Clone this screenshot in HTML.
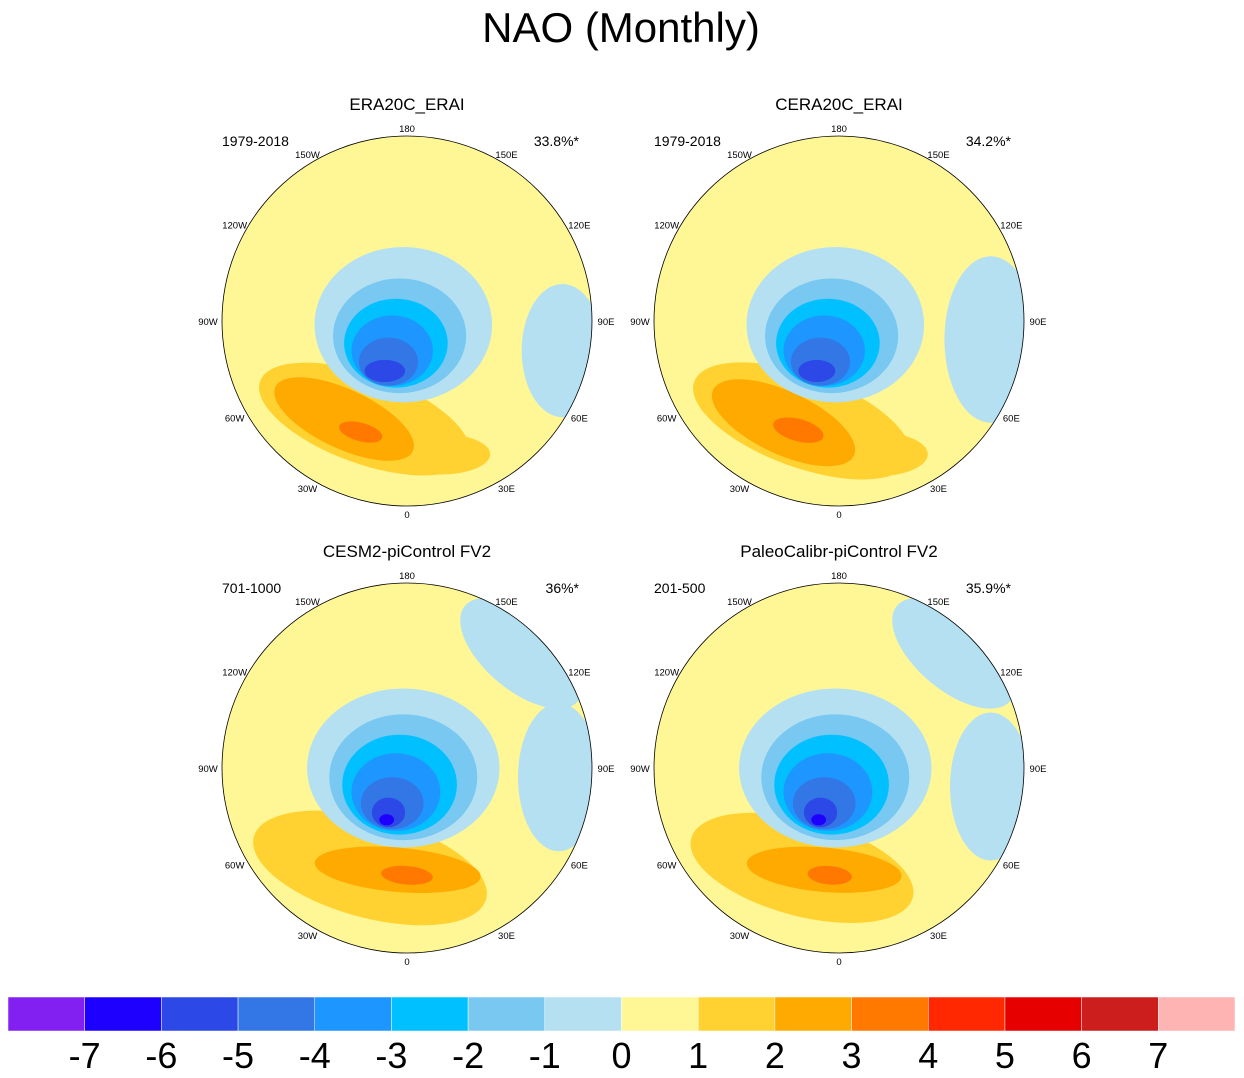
<!DOCTYPE html>
<html><head><meta charset="utf-8"><style>
body{margin:0;background:#fff;}
svg{display:block;font-family:"Liberation Sans",sans-serif;}
</style></head><body>
<svg id="c" width="1244" height="1078" viewBox="0 0 1244 1078">
<text x="621" y="42" font-size="42" text-anchor="middle">NAO (Monthly)</text>
</svg>
<script>
const levels=[-7,-6,-5,-4,-3,-2,-1,0,1,2,3,4,5,6,7];
const colors=["#8120F0","#1E00FF","#2C48E6","#3377E6","#1E96FF","#00C0FF","#78C8F2","#B4E0F2","#FFF796","#FFD232","#FFAA00","#FF7800","#FF2800","#E60000","#CD1E1E","#FFB4B4"];
const panelTitles=["ERA20C_ERAI","CERA20C_ERAI","CESM2-piControl FV2","PaleoCalibr-piControl FV2"];
const panelYears=["1979-2018","1979-2018","701-1000","201-500"];
const panelPct=["33.8%*","34.2%*","36%*","35.9%*"];
const lonLabels=["180","150E","120E","90E","60E","30E","0","30W","60W","90W","120W","150W"];
// blobs: [colorIndex, cx, cy, rx, ry, rotDeg] in units of map radius
const blobsTL=[[9,-0.23,0.53,0.6,0.24,20],[9,0.18,0.72,0.27,0.11,0],[10,-0.34,0.53,0.41,0.16,25],[11,-0.25,0.6,0.12,0.05,15],
 [7,-0.02,0.02,0.48,0.42,0],[7,0.84,0.16,0.22,0.36,0],[6,-0.04,0.08,0.36,0.31,0],[5,-0.06,0.12,0.28,0.24,0],[4,-0.08,0.16,0.22,0.19,0],[3,-0.1,0.22,0.16,0.13,0],[2,-0.12,0.27,0.11,0.06,0]];
const blobsTR=[[9,-0.2,0.54,0.62,0.25,20],[9,0.2,0.72,0.28,0.12,0],[10,-0.3,0.55,0.42,0.17,25],[11,-0.22,0.59,0.14,0.06,15],
 [7,-0.02,0.02,0.48,0.42,0],[7,0.82,0.1,0.25,0.45,0],[6,-0.04,0.08,0.36,0.31,0],[5,-0.06,0.12,0.28,0.24,0],[4,-0.08,0.16,0.22,0.19,0],[3,-0.1,0.22,0.16,0.13,0],[2,-0.12,0.27,0.1,0.06,0]];
const blobsBL=[[8,-0.17,-0.56,0.3,0.17,0],[7,0.62,-0.62,0.4,0.2,40],[7,0.82,0.05,0.22,0.4,0],
 [9,-0.2,0.54,0.65,0.27,15],[10,-0.05,0.55,0.45,0.12,5],[11,0.0,0.58,0.14,0.05,5],
 [7,-0.02,0.0,0.52,0.43,0],[6,-0.02,0.05,0.4,0.34,0],[5,-0.04,0.09,0.31,0.27,0],[4,-0.06,0.13,0.24,0.21,0],[3,-0.08,0.19,0.17,0.14,0],[2,-0.1,0.24,0.09,0.08,0],[1,-0.11,0.28,0.04,0.03,0]];
const blobsBR=[[8,-0.17,-0.56,0.22,0.14,0],[7,0.62,-0.62,0.4,0.2,40],[7,0.82,0.1,0.22,0.4,0],
 [9,-0.2,0.54,0.62,0.26,15],[10,-0.08,0.55,0.42,0.12,5],[11,-0.05,0.58,0.12,0.05,5],
 [7,-0.02,0.0,0.52,0.43,0],[6,-0.02,0.05,0.4,0.34,0],[5,-0.04,0.09,0.31,0.27,0],[4,-0.06,0.13,0.24,0.21,0],[3,-0.08,0.19,0.17,0.14,0],[2,-0.1,0.24,0.09,0.08,0],[1,-0.11,0.28,0.04,0.03,0]];
const panelBlobs=[blobsTL,blobsTR,blobsBL,blobsBR];

const svg=document.getElementById('c');
const NS='http://www.w3.org/2000/svg';
function mk(t,a){const e=document.createElementNS(NS,t);for(const k in a)e.setAttribute(k,a[k]);return e;}
const centers=[[407,321],[839,321],[407,768],[839,768]];
const R=185;
const defs=mk('defs',{});svg.appendChild(defs);
centers.forEach((c,p)=>{
  const cp=mk('clipPath',{id:'clip'+p});cp.appendChild(mk('circle',{cx:c[0],cy:c[1],r:R}));defs.appendChild(cp);
  const g=mk('g',{'clip-path':'url(#clip'+p+')'});
  
  
  g.appendChild(mk('rect',{x:c[0]-R,y:c[1]-R,width:2*R,height:2*R,fill:colors[8]}));
  panelBlobs[p].forEach(b=>{
    const e=mk('ellipse',{cx:c[0]+b[1]*R,cy:c[1]+b[2]*R,rx:b[3]*R,ry:b[4]*R,fill:colors[b[0]],transform:'rotate('+b[5]+' '+(c[0]+b[1]*R)+' '+(c[1]+b[2]*R)+')'});
    
    
    g.appendChild(e);
  });
  svg.appendChild(g);
  const ol=mk('circle',{cx:c[0],cy:c[1],r:R,fill:'none',stroke:'#000','stroke-width':0.8});
  
  
  svg.appendChild(ol);
  const t=mk('text',{x:c[0],y:c[1]-211,'font-size':17,'text-anchor':'middle'});t.textContent=panelTitles[p];
  
  
  svg.appendChild(t);
  const y=mk('text',{x:c[0]-185,y:c[1]-175,'font-size':14});y.textContent=panelYears[p];
  
  
  svg.appendChild(y);
  const q=mk('text',{x:c[0]+172,y:c[1]-175,'font-size':14,'text-anchor':'end'});q.textContent=panelPct[p];
  
  
  svg.appendChild(q);
  lonLabels.forEach((l,i)=>{
    const a=i*30*Math.PI/180;
    const rr=R+14;
    const tx=mk('text',{x:c[0]+Math.sin(a)*rr,y:c[1]-Math.cos(a)*(R+8)+4,'font-size':9.5,'text-anchor':'middle'});
    tx.textContent=l;
    
    
    svg.appendChild(tx);
  });
});
// colorbar
const x0=8,x1=1235,by=997,bh=34;
const bw=(x1-x0)/colors.length;
colors.forEach((col,i)=>{
  const r=mk('rect',{x:x0+i*bw,y:by,width:bw,height:bh,fill:col,stroke:'#fff','stroke-width':0.5});
  
  
  svg.appendChild(r);
});
levels.forEach((v,i)=>{
  const t=mk('text',{x:x0+(i+1)*bw,y:1068,'font-size':36,'text-anchor':'middle'});
  t.textContent=v;
  
  
  svg.appendChild(t);
});
</script>
</body></html>
